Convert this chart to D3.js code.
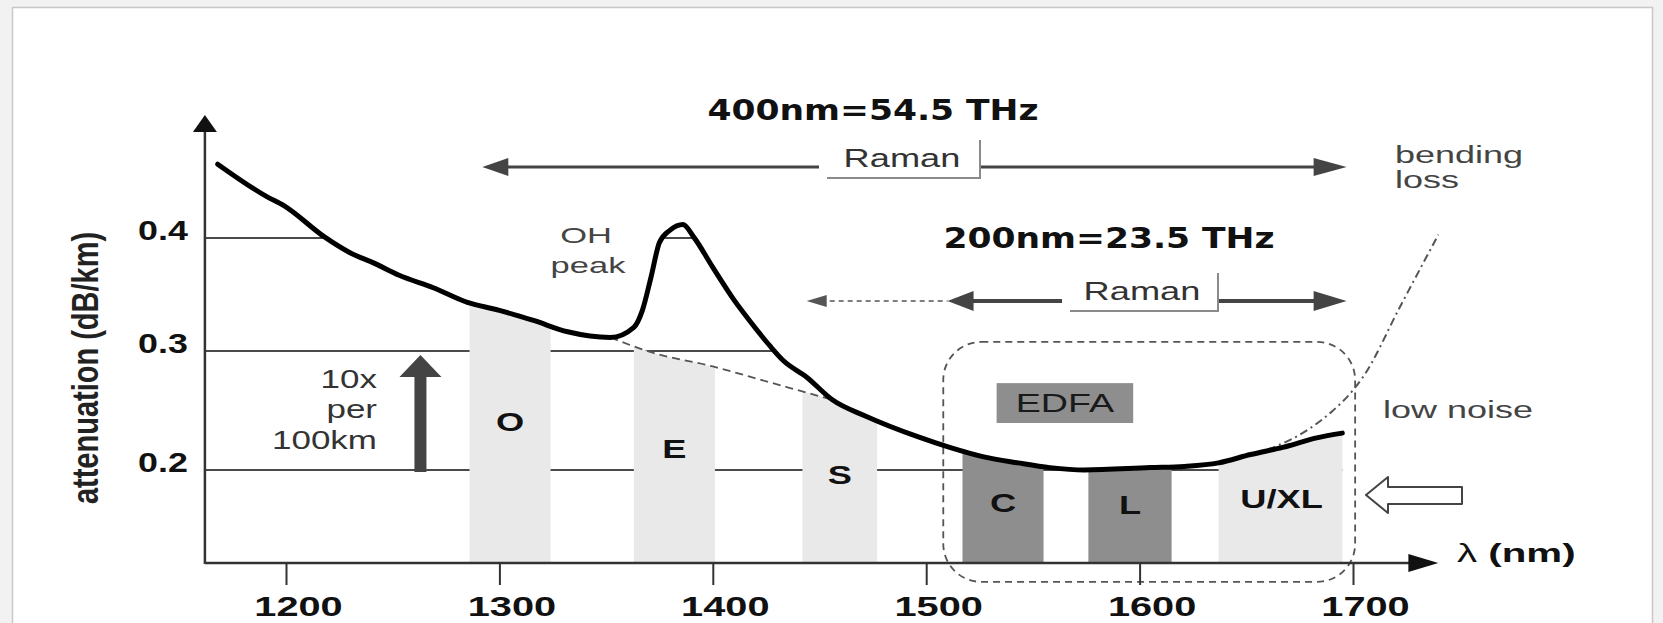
<!DOCTYPE html>
<html><head><meta charset="utf-8">
<script src="https://cdn.jsdelivr.net/npm/d3@7"></script>
<style>html,body{margin:0;padding:0;background:#f2f2f2;} svg{display:block}</style>
</head><body><svg id="c" width="1663" height="623"></svg>
<script>
// ---------------- data ----------------
const xTicks = [1200, 1300, 1400, 1500, 1600, 1700];
const yTicks = [0.2, 0.3, 0.4];
// [wavelength nm, attenuation dB/km]
const attenuation = [[1168,0.466],[1191,0.437],[1199,0.429],[1218,0.401],[1230,0.387],[1241,0.378],[1253,0.367],[1269,0.356],[1285,0.343],[1300,0.336],[1316,0.327],[1332,0.317],[1352,0.312],[1363,0.321],[1367,0.336],[1371,0.365],[1375,0.396],[1380,0.407],[1386,0.412],[1391,0.401],[1400,0.374],[1410,0.345],[1418,0.325],[1427,0.304],[1433,0.292],[1444,0.278],[1456,0.259],[1472,0.245],[1496,0.228],[1511,0.219],[1527,0.211],[1543,0.206],[1558,0.202],[1574,0.200],[1605,0.202],[1621,0.203],[1637,0.206],[1652,0.213],[1667,0.219],[1683,0.227],[1695,0.231]];
const ohFreeBaseline = [[1352,0.312],[1371,0.299],[1400,0.287],[1426,0.274],[1444,0.265],[1456,0.259]];
const bendingLoss = [[1652,0.213],[1664,0.220],[1679,0.234],[1690,0.249],[1700,0.267],[1705,0.279],[1722,0.339],[1740,0.403]];
const bandNames = ["O", "E", "S", "C", "L", "U/XL"];
const bandStart = [1286, 1363, 1442, 1517, 1576, 1637];
const bandEnd   = [1324, 1401, 1477, 1555, 1615, 1696];
const bandDark  = [false, false, false, true, true, false];
const bandLabelLevel = [0.240, 0.218, 0.196, 0.172, 0.170, 0.175];
const raman400 = [1292, 1697];
const raman200Solid = [1510, 1697];
const raman200Dashed = [1444, 1510];
const edfaWl = [1533, 1597];
const edfaLevel = [0.2395, 0.273];
const lowNoiseWl = [1508, 1701];
const lowNoiseLevel = [0.105, 0.308];
const gainArrow = [1263, 0.2, 0.3];   // wavelength, from, to
const axisWl = [1162, 1740];
const axisLevel = [0.121, 0.51];

// ---------------- scales ----------------
const x = d3.scaleLinear().domain([1200, 1700]).range([286, 1353]);
const y = d3.scaleLinear().domain([0.121, 0.2, 0.3, 0.4, 0.51]).range([563, 470, 351, 238, 115]);

const svg = d3.select("#c");
const FONT = "'Liberation Sans', Arial, sans-serif";
function txt(parent, px, py, s, o) {
  return parent.append("text")
    .attr("transform", `translate(${px},${py}) scale(${o.sx || 1},${o.sy || 1})`)
    .attr("font-family", o.family || FONT)
    .attr("font-size", o.size)
    .attr("font-weight", o.weight || "normal")
    .attr("fill", o.fill || "#222")
    .attr("text-anchor", o.anchor || "start")
    .text(s);
}

// frame
svg.append("rect").attr("x", 12.5).attr("y", 7.5).attr("width", 1640).attr("height", 630)
  .attr("fill", "#fff").attr("stroke", "#c8c8c8").attr("stroke-width", 1.5);

const defs = svg.append("defs");
const line = d3.line().x(d => x(d[0])).y(d => y(d[1])).curve(d3.curveMonotoneX);

// clip: area under the measured curve
const underCurve = [[axisWl[0], attenuation[0][1]], ...attenuation];
defs.append("clipPath").attr("id", "under").append("path")
  .attr("d", d3.area().x(d => x(d[0])).y0(y(axisLevel[0])).y1(d => y(d[1])).curve(d3.curveMonotoneX)(underCurve));

// gridlines (only below the curve)
svg.append("g").attr("clip-path", "url(#under)").selectAll("line").data(yTicks).join("line")
  .attr("x1", x(axisWl[0])).attr("x2", x(axisWl[1])).attr("y1", d => y(d)).attr("y2", d => y(d))
  .attr("stroke", "#4a4a4a").attr("stroke-width", 2);

// bands: area under OH-free baseline, clipped to each band range
const baseline = attenuation.filter(d => d[0] < ohFreeBaseline[0][0] || d[0] > ohFreeBaseline[ohFreeBaseline.length - 1][0])
  .concat(ohFreeBaseline).sort((a, b) => a[0] - b[0]);
const bandArea = d3.area().x(d => x(d[0])).y0(y(axisLevel[0])).y1(d => y(d[1])).curve(d3.curveMonotoneX)(baseline);
bandNames.forEach((n, i) => {
  defs.append("clipPath").attr("id", "band" + i).append("rect")
    .attr("x", x(bandStart[i])).attr("width", x(bandEnd[i]) - x(bandStart[i]))
    .attr("y", 0).attr("height", y(axisLevel[0]) - 1);
  svg.append("path").attr("d", bandArea).attr("clip-path", `url(#band${i})`)
    .attr("fill", bandDark[i] ? "#8e8e8e" : "#e9e9e9");
});
bandNames.forEach((n, i) => {
  txt(svg, (x(bandStart[i]) + x(bandEnd[i])) / 2, y(bandLabelLevel[i]) + 9, n,
    { size: 25, weight: "bold", sx: 1.45, anchor: "middle", fill: "#111" });
});

// EDFA box
svg.append("rect").attr("x", x(edfaWl[0])).attr("y", y(edfaLevel[1]))
  .attr("width", x(edfaWl[1]) - x(edfaWl[0])).attr("height", y(edfaLevel[0]) - y(edfaLevel[1]))
  .attr("fill", "#8e8e8e");
txt(svg, (x(edfaWl[0]) + x(edfaWl[1])) / 2, 412, "EDFA", { size: 26, sx: 1.45, anchor: "middle", fill: "#1a1a1a" });

// low-noise dashed rounded box
svg.append("rect").attr("x", x(lowNoiseWl[0])).attr("y", y(lowNoiseLevel[1]))
  .attr("width", x(lowNoiseWl[1]) - x(lowNoiseWl[0])).attr("height", y(lowNoiseLevel[0]) - y(lowNoiseLevel[1]))
  .attr("rx", 38).attr("fill", "none").attr("stroke", "#555").attr("stroke-width", 1.8).attr("stroke-dasharray", "7,5");

// OH-free dashed baseline
svg.append("path").attr("d", line(ohFreeBaseline)).attr("fill", "none")
  .attr("stroke", "#555").attr("stroke-width", 1.8).attr("stroke-dasharray", "8,5");
// bending loss dash-dot
svg.append("path").attr("d", line(bendingLoss)).attr("fill", "none")
  .attr("stroke", "#555").attr("stroke-width", 2).attr("stroke-dasharray", "8,4,2,4");

// main curve
svg.append("path").attr("d", line(attenuation)).attr("fill", "none")
  .attr("stroke", "#000").attr("stroke-width", 5).attr("stroke-linejoin", "round").attr("stroke-linecap", "round");

// axes
const ax = svg.append("g").attr("transform", `translate(0,${y(axisLevel[0])})`)
  .call(d3.axisBottom(x).tickValues(xTicks).tickSize(22).tickFormat(d3.format("d")));
ax.select(".domain").remove();
ax.selectAll(".tick line").attr("stroke", "#333").attr("stroke-width", 2);
ax.selectAll(".tick text").attr("y", 0).attr("dy", 0).attr("transform", "translate(12,53) scale(1.42,1)")
  .attr("font-family", FONT).attr("font-size", 28).attr("font-weight", "bold").attr("fill", "#111");

const ay = svg.append("g").attr("transform", `translate(${x(axisWl[0])},0)`)
  .call(d3.axisLeft(y).tickValues(yTicks).tickSize(0).tickFormat(d3.format(".1f")));
ay.select(".domain").remove();
ay.selectAll(".tick text").attr("x", 0).attr("y", 1).attr("dy", 0).attr("transform", "translate(-17,0) scale(1.28,1)")
  .attr("font-family", FONT).attr("font-size", 28).attr("font-weight", "bold").attr("fill", "#111");

const x0 = x(axisWl[0]), yb = y(axisLevel[0]), yt = y(axisLevel[1]), xr = x(axisWl[1]);
svg.append("line").attr("x1", x0).attr("x2", xr - 28).attr("y1", yb).attr("y2", yb).attr("stroke", "#333").attr("stroke-width", 2.5);
svg.append("path").attr("d", `M${xr},${yb} L${xr - 30},${yb - 9} L${xr - 30},${yb + 9} Z`).attr("fill", "#111");
svg.append("line").attr("x1", x0).attr("x2", x0).attr("y1", yb + 1).attr("y2", yt + 16).attr("stroke", "#333").attr("stroke-width", 2.5);
svg.append("path").attr("d", `M${x0},${yt} L${x0 - 12},${yt + 17} L${x0 + 12},${yt + 17} Z`).attr("fill", "#111");

// axis titles
txt(svg, 98, 368, "attenuation (dB/km)", { size: 29, weight: "bold", fill: "#222", anchor: "middle" })
  .attr("transform", "translate(98,368) rotate(-90) scale(1,1.3)");
const lam = txt(svg, 1457, 562, "", { size: 26, sx: 1.55, fill: "#111" });
lam.append("tspan").text("λ ");
lam.append("tspan").attr("font-weight", "bold").text("(nm)");

// 10x arrow
const gx = x(gainArrow[0]), gy0 = y(gainArrow[1]) + 2, gy1 = y(gainArrow[2]) + 4;
svg.append("path").attr("d", `M${gx - 6},${gy0} L${gx + 6},${gy0} L${gx + 6},${gy1 + 22} L${gx + 21},${gy1 + 22} L${gx},${gy1} L${gx - 21},${gy1 + 22} L${gx - 6},${gy1 + 22} Z`)
  .attr("fill", "#444");
txt(svg, 377, 388, "10x", { size: 25, sx: 1.4, anchor: "end", fill: "#333" });
txt(svg, 377, 418, "per", { size: 25, sx: 1.4, anchor: "end", fill: "#333" });
txt(svg, 377, 449, "100km", { size: 25, sx: 1.4, anchor: "end", fill: "#333" });

// Raman arrows
function arrowHead(px, py, dir, len, half, fill) {
  svg.append("path").attr("d", `M${px},${py} L${px - dir * len},${py - half} L${px - dir * len},${py + half} Z`).attr("fill", fill);
}
function ramanLabel(cx, ly, boxL, boxR) {
  svg.append("rect").attr("x", boxL - 8).attr("y", ly - 28).attr("width", boxR - boxL + 8).attr("height", 38).attr("fill", "#fff");
  svg.append("path").attr("d", `M${boxL},${ly + 11} L${boxR},${ly + 11} L${boxR},${ly - 27}`)
    .attr("fill", "none").attr("stroke", "#8a8a8a").attr("stroke-width", 2);
  txt(svg, cx, ly, "Raman", { size: 25, sx: 1.45, anchor: "middle", fill: "#333" });
}
const r1y = 167;
svg.append("line").attr("x1", x(raman400[0]) + 20).attr("x2", x(raman400[1]) - 20).attr("y1", r1y).attr("y2", r1y).attr("stroke", "#444").attr("stroke-width", 3);
arrowHead(x(raman400[0]), r1y, -1, 26, 9, "#444");
arrowHead(x(raman400[1]), r1y, 1, 33, 9, "#444");
ramanLabel(902, r1y, 827, 980);
txt(svg, 873, 120, "400nm=54.5 THz", { size: 29, weight: "bold", sx: 1.19, anchor: "middle", family: "'DejaVu Sans', Verdana, sans-serif", fill: "#111" });

const r2y = 301;
svg.append("line").attr("x1", x(raman200Dashed[0]) + 14).attr("x2", x(raman200Dashed[1])).attr("y1", r2y).attr("y2", r2y)
  .attr("stroke", "#555").attr("stroke-width", 1.5).attr("stroke-dasharray", "5,4");
arrowHead(x(raman200Dashed[0]), r2y, -1, 20, 6, "#555");
svg.append("line").attr("x1", x(raman200Solid[0]) + 20).attr("x2", x(raman200Solid[1]) - 20).attr("y1", r2y).attr("y2", r2y).attr("stroke", "#444").attr("stroke-width", 4);
arrowHead(x(raman200Solid[0]), r2y, -1, 26, 10, "#444");
arrowHead(x(raman200Solid[1]), r2y, 1, 33, 10, "#444");
ramanLabel(1142, r2y - 1, 1070, 1218);
txt(svg, 1109, 248, "200nm=23.5 THz", { size: 29, weight: "bold", sx: 1.19, anchor: "middle", family: "'DejaVu Sans', Verdana, sans-serif", fill: "#111" });

// annotations
txt(svg, 586, 243, "OH", { size: 23, sx: 1.5, anchor: "middle", fill: "#444" });
txt(svg, 588, 273, "peak", { size: 23, sx: 1.5, anchor: "middle", fill: "#444" });
txt(svg, 1395, 163, "bending", { size: 24, sx: 1.5, fill: "#444" });
txt(svg, 1395, 188, "loss", { size: 24, sx: 1.5, fill: "#444" });
txt(svg, 1383, 418, "low noise", { size: 24, sx: 1.5, fill: "#444" });

// hollow arrow
svg.append("path").attr("d", "M1366,495 L1388,477 L1388,487 L1462,487 L1462,504 L1388,504 L1388,513 Z")
  .attr("fill", "#fff").attr("stroke", "#444").attr("stroke-width", 2).attr("stroke-linejoin", "round");
</script></body></html>
